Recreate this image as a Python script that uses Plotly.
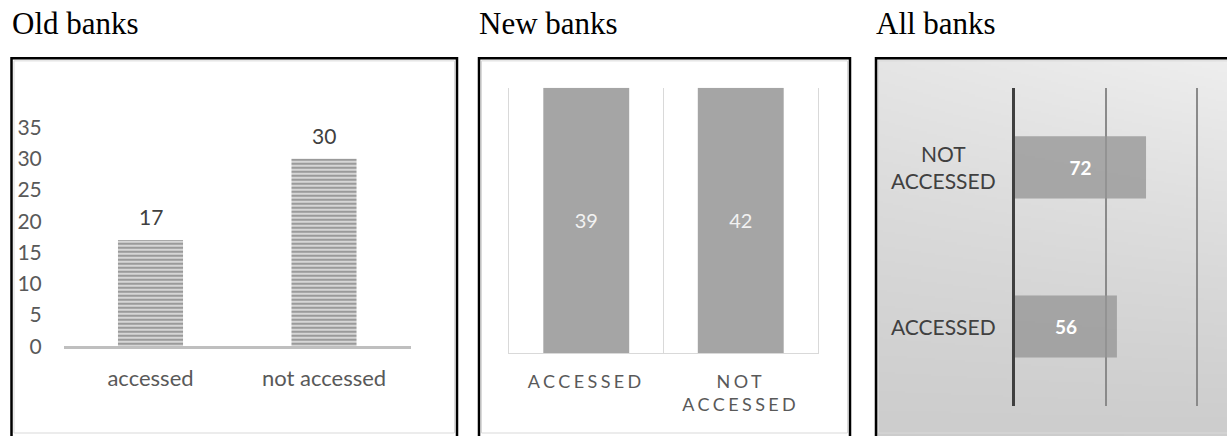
import base64
import struct
import zlib

import plotly.graph_objects as go

# ---- data -------------------------------------------------------------
old_categories = ["accessed", "not accessed"]
old_counts = [17, 30]
old_ticks = [0, 5, 10, 15, 20, 25, 30, 35]

new_categories = ["ACCESSED", "NOT ACCESSED"]
new_counts = [39, 42]

all_categories = ["ACCESSED", "NOT ACCESSED"]
all_counts = [56, 72]
all_grid = [0, 50, 100]

panel_titles = ["Old banks", "New banks", "All banks"]

# ---- canvas helpers ---------------------------------------------------
W, H = 1227, 436
K = 0.977  # vertical layout factor used for placing frames and axes


def fx(px):
    return px / W


def fy(py):
    return 1 - (py / K) / H


SANS = "Lato, 'Open Sans', sans-serif"
SERIF = "'Liberation Serif', 'Times New Roman', serif"


def gradient_png(w, h):
    """Soft grey backdrop: lighter towards the top-right corner."""
    rows = []
    for j in range(h):
        v = j / (h - 1)
        row = bytearray([0])
        for i in range(w):
            u = i / (w - 1)
            g = int(round(204 + 34 * (1 - v) ** 1.2 * (0.74 + 0.26 * u)))
            row += bytes((g, g, g))
        rows.append(bytes(row))
    raw = b"".join(rows)

    def chunk(tag, data):
        c = struct.pack(">I", len(data)) + tag + data
        return c + struct.pack(">I", zlib.crc32(tag + data) & 0xFFFFFFFF)

    png = b"\x89PNG\r\n\x1a\n"
    png += chunk(b"IHDR", struct.pack(">IIBBBBB", w, h, 8, 2, 0, 0, 0))
    png += chunk(b"IDAT", zlib.compress(raw, 9))
    png += chunk(b"IEND", b"")
    return "data:image/png;base64," + base64.b64encode(png).decode()


# 100% stacked columns: each column is its series' share of the category total
new_totals = [sum(col) for col in zip(new_counts)]
new_share = [100 * c / t for c, t in zip(new_counts, new_totals)]

fig = go.Figure()

# ---- panel 1: striped columns ----------------------------------------
fig.add_trace(go.Bar(
    x=old_categories, y=old_counts, width=0.375,
    marker=dict(
        color="#d2d2d2",
        line=dict(width=0),
        pattern=dict(shape="-", fgcolor="#9a9a9a", bgcolor="#d6d6d6",
                     size=4, solidity=0.5, fillmode="replace"),
    ),
    xaxis="x", yaxis="y", showlegend=False, hoverinfo="x+y",
))
for cat, val in zip(old_categories, old_counts):
    fig.add_annotation(
        x=cat, y=val, xref="x", yref="y", text=str(val), showarrow=False,
        yanchor="bottom", yshift=9,
        font=dict(family=SANS, size=21, color="#404040"),
    )

# ---- panel 2: 100% columns with inside labels -------------------------
fig.add_trace(go.Bar(
    x=new_categories, y=new_share, width=0.556,
    marker=dict(color="#a5a5a5", line=dict(width=0)),
    text=[str(v) for v in new_counts], textposition="inside",
    insidetextanchor="middle",
    textfont=dict(family=SANS, size=20, color="#f2f2f2"),
    xaxis="x2", yaxis="y2", showlegend=False, hoverinfo="x+text",
))

# ---- panel 3: horizontal bars on a shaded backdrop --------------------
fig.add_trace(go.Bar(
    y=all_categories, x=all_counts, orientation="h", width=0.39,
    marker=dict(color="rgba(150,150,150,0.78)", line=dict(width=0)),
    text=[str(v) for v in all_counts], textposition="inside",
    insidetextanchor="middle",
    textfont=dict(family=SANS, size=19, color="#ffffff", weight="bold"),
    xaxis="x3", yaxis="y3", showlegend=False, hoverinfo="y+x",
))
for cat in all_categories:
    fig.add_annotation(
        x=fx(943), xref="paper", y=cat, yref="y3",
        text=cat.replace(" ", "<br>"), showarrow=False, align="center",
        xanchor="center", yanchor="middle",
        font=dict(family=SANS, size=21, color="#404040"),
    )

# ---- panel frames and titles ------------------------------------------
frames = [(11.5, 457), (479, 850), (876, 1240)]
shapes = []
for x0, x1 in frames:
    shapes.append(dict(type="rect", xref="paper", yref="paper",
                       x0=fx(x0 + 2.5), x1=fx(x1 - 2.5), y0=fy(434), y1=fy(61),
                       line=dict(color="#d9d9d9", width=1),
                       fillcolor="rgba(0,0,0,0)", layer="below"))
    shapes.append(dict(type="rect", xref="paper", yref="paper",
                       x0=fx(x0), x1=fx(x1), y0=fy(470), y1=fy(58.5),
                       line=dict(color="#000000", width=2.5),
                       fillcolor="rgba(0,0,0,0)", layer="above"))

for title, (x0, _) in zip(panel_titles, frames):
    fig.add_annotation(
        x=fx(x0 - 2), y=fy(23.5), xref="paper", yref="paper", text=title,
        showarrow=False, xanchor="left", yanchor="middle",
        font=dict(family=SERIF, size=31, color="#000000"),
    )

spaced = [
    "<br>".join(f'<span style="letter-spacing:3.4px">{w}</span>' for w in c.split(" "))
    for c in new_categories
]

fig.update_layout(
    width=W, height=H,
    margin=dict(l=0, r=0, t=0, b=0),
    paper_bgcolor="#ffffff", plot_bgcolor="rgba(0,0,0,0)",
    barmode="overlay",
    shapes=shapes,
    images=[dict(source=gradient_png(176, 190), xref="paper", yref="paper",
                 x=fx(876), y=fy(58.5), sizex=fx(1227) - fx(876),
                 sizey=fy(58.5) - fy(450), xanchor="left", yanchor="top",
                 sizing="stretch", layer="below")],
    # panel 1
    xaxis=dict(domain=[fx(63.75), fx(410.75)], type="category",
               range=[-0.5, 1.5], showline=True, linecolor="#bfbfbf",
               linewidth=3, showgrid=False, ticks="", ticklabelstandoff=10,
               tickfont=dict(family=SANS, size=22, color="#595959"),
               anchor="y"),
    yaxis=dict(domain=[fy(347), fy(106)], range=[0, 38.5],
               tickvals=old_ticks, showgrid=False, zeroline=False,
               showline=False, ticks="", ticklabelstandoff=21,
               tickfont=dict(family=SANS, size=21, color="#595959"),
               anchor="x"),
    # panel 2
    xaxis2=dict(domain=[fx(509), fx(818)], type="category",
                range=[-0.5, 1.5], tickson="boundaries", showgrid=True,
                gridcolor="#d9d9d9", gridwidth=1, showline=True,
                linecolor="#d9d9d9", linewidth=1, ticks="",
                tickvals=new_categories, ticktext=spaced,
                ticklabelstandoff=12,
                tickfont=dict(family=SANS, size=18, color="#595959"),
                anchor="y2"),
    yaxis2=dict(domain=[fy(354), fy(88)], range=[0, 100],
                showticklabels=False, showgrid=False, zeroline=False,
                showline=True, mirror=True, linecolor="#d9d9d9",
                linewidth=1, ticks="", anchor="x2"),
    # panel 3
    xaxis3=dict(domain=[fx(1015), fx(1015 + 102 * 1.82)], range=[0, 102],
                tickvals=all_grid[1:], showgrid=True, gridcolor="#8a8a8a",
                gridwidth=2, showticklabels=False, zeroline=False,
                showline=False, ticks="", anchor="y3"),
    yaxis3=dict(domain=[fy(407), fy(88)], type="category",
                categoryorder="array", categoryarray=all_categories,
                range=[-0.5, 1.5], showticklabels=False, showgrid=False,
                zeroline=False, showline=True, linecolor="#3f3f3f",
                linewidth=3, layer="above traces", ticks="", anchor="x3"),
)

fig.write_html("out.html")
